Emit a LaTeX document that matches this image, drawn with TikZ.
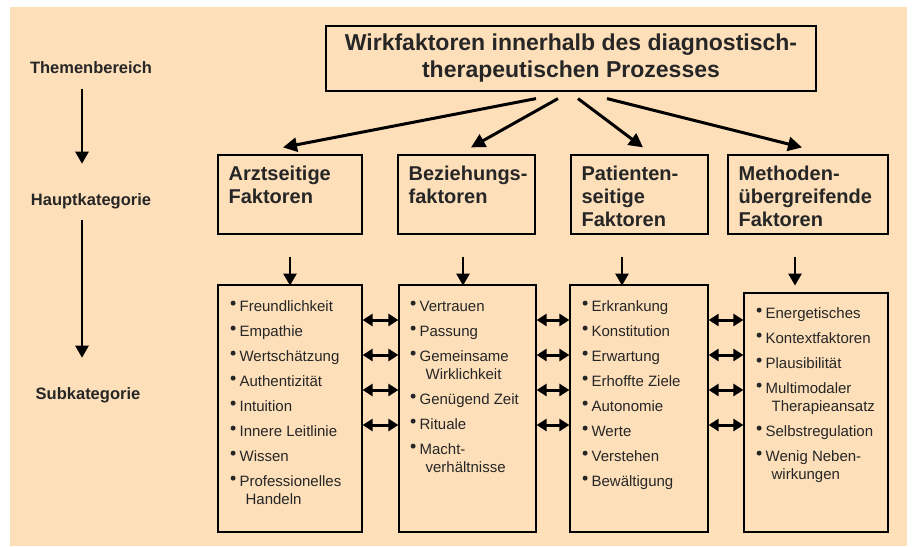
\documentclass[tikz,border=0pt]{standalone}
\usepackage{fontspec}
\setmainfont{Liberation Sans}
\usetikzlibrary{arrows.meta}

\definecolor{peach}{RGB}{253,223,186}
\definecolor{ink}{RGB}{38,38,38}

% Aufzaehlungspunkt und Einzug fuer Folgezeilen
\newcommand{\itm}{\makebox[9pt][l]{\tikz[baseline=0pt]\fill (2.5pt,8.5pt) circle (2.5pt);}}
\newcommand{\cont}{\hspace*{15pt}}

\tikzset{
  kasten/.style={draw, line width=1.2pt, inner sep=0pt},
  ebene/.style={font=\bfseries\fontsize{16.5}{19}\selectfont, text=ink},
  kattext/.style={anchor=north west, align=left, inner sep=0pt, text=ink,
    font=\bfseries\fontsize{20}{23}\selectfont},
  listtext/.style={anchor=north west, align=left, inner sep=0pt, text=ink,
    font=\fontsize{15}{18}\selectfont},
  arr/.style={line width=2.5pt, -{Triangle[length=12pt,width=13pt]}},
  titelpfeil/.style={line width=3pt, -{Triangle[length=14pt,width=14pt]}},
  darr/.style={line width=3pt, {Triangle[length=10pt,width=12pt]}-{Triangle[length=10pt,width=12pt]}}
}

\begin{document}
\begin{tikzpicture}[x=1pt,y=-1pt]
\useasboundingbox (0,0) rectangle (912,546);
\fill[peach] (10,7) rectangle (907,546);

% Ebenen links
\node[ebene] (thema) at (91,68) {Themenbereich};
\node[ebene] (haupt) at (91,201) {Hauptkategorie};
\node[ebene] (sub) at (88,395) {Subkategorie};
\draw[arr, shorten <=11pt, shorten >=26pt] ([xshift=-9pt]thema.south) -- ([xshift=-9pt]haupt.north);
\draw[arr, shorten <=8pt, shorten >=26pt] ([xshift=-9pt]haupt.south) -- ([xshift=-6pt]sub.north);

% Themenbereich
\node[kasten, minimum width=490pt, minimum height=65pt, align=center, text=ink,
  font=\bfseries\fontsize{23}{27}\selectfont] (titel) at (571,58.5)
  {Wirkfaktoren innerhalb des diagnostisch-\\therapeutischen Prozesses};

% Hauptkategorien
\node[kasten, minimum width=144pt, minimum height=79pt] (arzt) at (290,194.5) {};
\node[kasten, minimum width=137pt, minimum height=79pt] (bez) at (466.5,194.5) {};
\node[kasten, minimum width=137pt, minimum height=79pt] (pat) at (639.5,194.5) {};
\node[kasten, minimum width=160pt, minimum height=79pt] (meth) at (808,194.5) {};
\node[kattext] (arztT) at ([xshift=11pt,yshift=-11pt]arzt.north west) {Arztseitige\\Faktoren};
\node[kattext] (bezT) at ([xshift=11pt,yshift=-11pt]bez.north west) {Beziehungs-\\faktoren};
\node[kattext] (patT) at ([xshift=11pt,yshift=-11pt]pat.north west) {Patienten-\\seitige\\Faktoren};
\node[kattext] (methT) at ([xshift=11pt,yshift=-11pt]meth.north west) {Methoden-\\übergreifende\\Faktoren};

\draw[titelpfeil] ([xshift=-35pt,yshift=-7pt]titel.south) -- ([xshift=-7pt,yshift=7pt]arzt.north);
\draw[titelpfeil] ([xshift=-13pt,yshift=-7pt]titel.south) -- ([xshift=4.5pt,yshift=7pt]bez.north);
\draw[titelpfeil] ([xshift=7pt,yshift=-7pt]titel.south) -- ([xshift=3.5pt,yshift=7pt]pat.north);
\draw[titelpfeil] ([xshift=36pt,yshift=-7pt]titel.south) -- ([xshift=-6pt,yshift=7pt]meth.north);

% Subkategorien
\node[kasten, minimum width=144pt, minimum height=247pt] (lA) at (290,408.5) {};
\node[kasten, minimum width=137pt, minimum height=247pt] (lB) at (467.5,408.5) {};
\node[kasten, minimum width=138pt, minimum height=247pt] (lC) at (639,408.5) {};
\node[kasten, minimum width=144pt, minimum height=239pt] (lD) at (816,412.5) {};

\node[listtext] (lAT) at ([xshift=13pt,yshift=-16pt]lA.north west)
  {\itm Freundlichkeit\\[7pt]\itm Empathie\\[7pt]\itm Wertschätzung\\[7pt]\itm Authentizität\\[7pt]%
   \itm Intuition\\[7pt]\itm Innere Leitlinie\\[7pt]\itm Wissen\\[7pt]\itm Professionelles\\\cont Handeln};
\node[listtext] (lBT) at ([xshift=12pt,yshift=-16pt]lB.north west)
  {\itm Vertrauen\\[7pt]\itm Passung\\[7pt]\itm Gemeinsame\\\cont Wirklichkeit\\[7pt]%
   \itm Genügend Zeit\\[7pt]\itm Rituale\\[7pt]\itm Macht-\\\cont verhältnisse};
\node[listtext] (lCT) at ([xshift=13pt,yshift=-16pt]lC.north west)
  {\itm Erkrankung\\[7pt]\itm Konstitution\\[7pt]\itm Erwartung\\[7pt]\itm Erhoffte Ziele\\[7pt]%
   \itm Autonomie\\[7pt]\itm Werte\\[7pt]\itm Verstehen\\[7pt]\itm Bewältigung};
\node[listtext] (lDT) at ([xshift=13pt,yshift=-15pt]lD.north west)
  {\itm Energetisches\\[7pt]\itm Kontextfaktoren\\[7pt]\itm Plausibilität\\[7pt]\itm Multimodaler\\\cont Therapieansatz\\[7pt]%
   \itm Selbstregulation\\[7pt]\itm Wenig Neben-\\\cont wirkungen};

% Pfeile Haupt- zu Subkategorie
\foreach \k/\d in {arzt/0, bez/-3.5, pat/-17.5, meth/-13}
  \draw[arr] ([xshift=\d pt,yshift=-22pt]\k.south) -- ++(0,29);

% Wechselwirkungen
\foreach \y in {320,355,390,425} {
  \draw[darr] (lA.east |- 0,\y) -- (lB.west |- 0,\y);
  \draw[darr] (lB.east |- 0,\y) -- (lC.west |- 0,\y);
  \draw[darr] (lC.east |- 0,\y) -- (lD.west |- 0,\y);
}
\end{tikzpicture}
\end{document}
